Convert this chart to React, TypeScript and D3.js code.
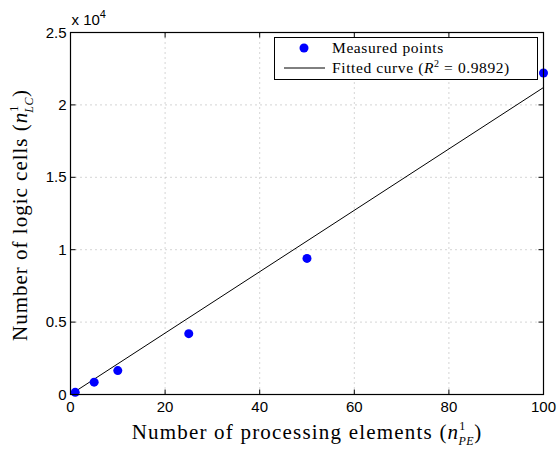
import React from "react";
import * as d3 from "d3";

const pointsX = [1, 5, 10, 25, 50, 100];
const pointsY = [150, 850, 1650, 4200, 9400, 22200];
const fitX = [0, 100];
const fitY = [0, 21200];
const xTicks = [0, 20, 40, 60, 80, 100];
const yTicks = [0, 0.5, 1, 1.5, 2, 2.5];

export default function App() {
  const W = 559, H = 449;
  const left = 70.5, right = 543.5, top = 32.5, bottom = 394.5;
  const x = d3.scaleLinear().domain([0, 100]).range([left, right]);
  const y = d3.scaleLinear().domain([0, 25000]).range([bottom, top]);
  const line = d3.line<number>().x((_, i) => x(fitX[i])).y((d) => y(d));
  const tick = 5;
  const sans = "'Liberation Sans', Arial, sans-serif";
  const serif = "'Liberation Serif', serif";
  return (
    <svg width={W} height={H} style={{ position: "absolute", left: 0, top: 0, background: "#fff" }}>
      <rect x={0} y={0} width={W} height={H} fill="#fff" />
      {xTicks.slice(1, -1).map((t) => (
        <line key={"gx" + t} x1={x(t)} x2={x(t)} y1={top} y2={bottom} stroke="#aaa" strokeDasharray="1,4" />
      ))}
      {yTicks.slice(1, -1).map((t) => (
        <line key={"gy" + t} x1={left} x2={right} y1={y(t * 10000)} y2={y(t * 10000)} stroke="#aaa" strokeDasharray="1,4" />
      ))}
      {xTicks.map((t) => (
        <g key={"tx" + t}>
          <line x1={x(t)} x2={x(t)} y1={bottom} y2={bottom - tick} stroke="#000" />
          <line x1={x(t)} x2={x(t)} y1={top} y2={top + tick} stroke="#000" />
          <text x={x(t)} y={bottom + 17} textAnchor="middle" fontFamily={sans} fontSize={15}>{t}</text>
        </g>
      ))}
      {yTicks.map((t) => (
        <g key={"ty" + t}>
          <line x1={left} x2={left + tick} y1={y(t * 10000)} y2={y(t * 10000)} stroke="#000" />
          <line x1={right} x2={right - tick} y1={y(t * 10000)} y2={y(t * 10000)} stroke="#000" />
          <text x={left - 4} y={y(t * 10000) + 5} textAnchor="end" fontFamily={sans} fontSize={15}>{t}</text>
        </g>
      ))}
      <text x={left + 1} y={top - 8} fontFamily={sans} fontSize={15}>x 10<tspan dy={-7} fontSize={11}>4</tspan></text>
      <path d={line(fitY) || ""} fill="none" stroke="#000" strokeWidth={1} />
      {pointsX.map((px, i) => (
        <circle key={"p" + i} cx={x(px)} cy={y(pointsY[i])} r={4.5} fill="#0000ff" />
      ))}
      <rect x={left} y={top} width={right - left} height={bottom - top} fill="none" stroke="#000" strokeWidth={1.2} />
      <g>
        <rect x={274.5} y={37.5} width={263} height={42} fill="#fff" stroke="#000" />
        <circle cx={304} cy={48} r={4.5} fill="#0000ff" />
        <line x1={284} x2={325} y1={68} y2={68} stroke="#000" />
        <text x={332} y={53} fontFamily={serif} fontSize={15.5} letterSpacing={0.6}>Measured points</text>
        <text x={332} y={73} fontFamily={serif} fontSize={15.5} letterSpacing={0.6}>
          Fitted curve (<tspan fontStyle="italic">R</tspan><tspan dy={-6} fontSize={10}>2</tspan><tspan dy={6}> = 0.9892)</tspan>
        </text>
      </g>
      <text x={(left + right) / 2} y={439} textAnchor="middle" fontFamily={serif} fontSize={21} letterSpacing={1.2}>
        Number of processing elements (<tspan fontStyle="italic">n</tspan><tspan dy={-9} fontSize={12}>1</tspan><tspan dx={-8} dy={15} fontSize={12} fontStyle="italic" letterSpacing={0.5}>PE</tspan><tspan dy={-6}>)</tspan>
      </text>
      <text transform={`translate(27,215) rotate(-90)`} textAnchor="middle" fontFamily={serif} fontSize={21} letterSpacing={1.0}>
        Number of logic cells (<tspan fontStyle="italic">n</tspan><tspan dy={-9} fontSize={12}>1</tspan><tspan dx={-8} dy={15} fontSize={12} fontStyle="italic" letterSpacing={0.5}>LC</tspan><tspan dy={-6}>)</tspan>
      </text>
    </svg>
  );
}
